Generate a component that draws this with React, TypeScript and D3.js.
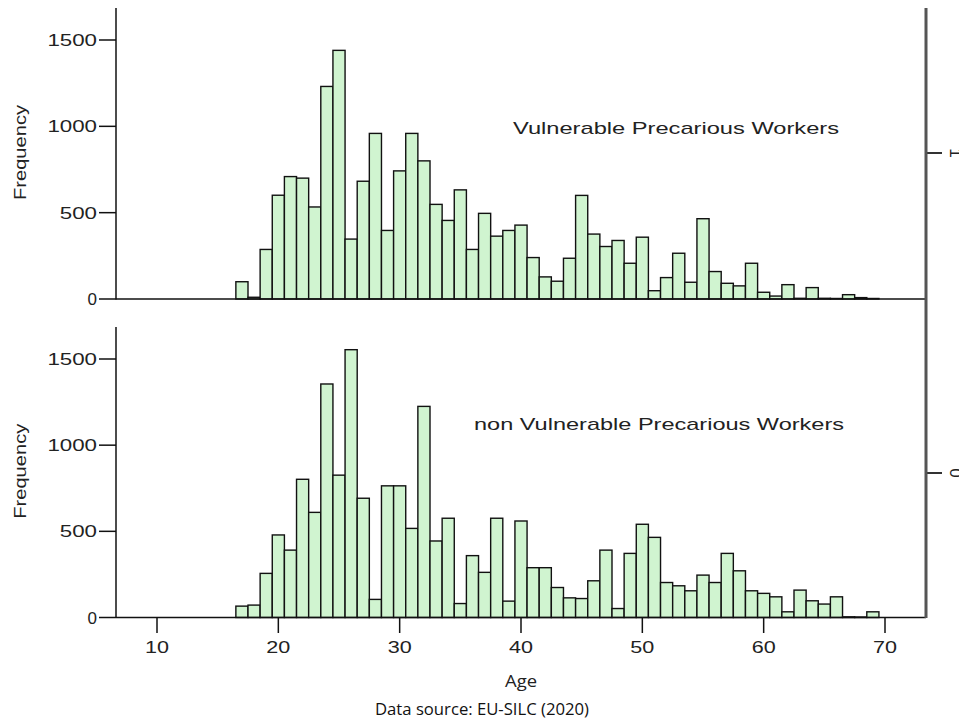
import React from "react";
import * as d3 from "d3";

// ---- data ----
const ages = [17, 18, 19, 20, 21, 22, 23, 24, 25, 26, 27, 28, 29, 30, 31, 32, 33, 34, 35, 36, 37, 38, 39, 40, 41, 42, 43, 44, 45, 46, 47, 48, 49, 50, 51, 52, 53, 54, 55, 56, 57, 58, 59, 60, 61, 62, 63, 64, 65, 66, 67, 68, 69];

const vulnerable = [100, 10, 287, 601, 709, 700, 533, 1231, 1440, 347, 682, 959, 397, 742, 959, 800, 548, 455, 632, 287, 496, 364, 397, 428, 240, 128, 103, 236, 600, 376, 304, 339, 207, 358, 48, 124, 265, 97, 465, 159, 91, 76, 207, 39, 17, 83, 4, 66, 4, 3, 25, 8, 3];

const nonVulnerable = [66, 72, 256, 479, 391, 802, 610, 1355, 826, 1554, 692, 105, 764, 764, 517, 1225, 444, 576, 81, 359, 262, 576, 95, 560, 289, 289, 174, 114, 110, 213, 391, 52, 372, 541, 465, 203, 184, 155, 246, 203, 372, 271, 155, 140, 120, 33, 159, 97, 78, 120, 4, 3, 33];

const yTicks = [0, 500, 1000, 1500];
const xTicks = [10, 20, 30, 40, 50, 60, 70];
const panelLabels = ["Vulnerable Precarious Workers", "non Vulnerable Precarious Workers"];
const rightLabels = ["1", "0"];

const W = 959;
const H = 727;

const x = d3.scaleLinear().domain([10, 70]).range([157, 885]);
const xLeft = 116;
const xRight = 926;

const panels = [
  { data: vulnerable, y: d3.scaleLinear().domain([0, 1500]).range([299, 40]), top: 8, label: panelLabels[0], lx: 513, ly: 134, lw: 326, right: rightLabels[0], ry: 153 },
  { data: nonVulnerable, y: d3.scaleLinear().domain([0, 1500]).range([617.5, 359]), top: 327, label: panelLabels[1], lx: 474, ly: 430, lw: 370, right: rightLabels[1], ry: 473 },
];

const FONT = "'Liberation Sans', Arial, sans-serif";
const FILL = "#d0f4d0";

export default function App() {
  return (
    <svg width={W} height={H} style={{ position: "absolute", left: 0, top: 0, background: "#fff" }}>
      {panels.map((p, pi) => {
        const y0 = p.y(0);
        return (
          <g key={pi}>
            {/* bars */}
            {ages.map((a, i) => {
              const x0 = x(a - 0.5);
              const x1 = x(a + 0.5);
              const yt = p.y(p.data[i]);
              return (
                <rect key={a} x={x0} y={yt} width={x1 - x0} height={y0 - yt}
                  fill={FILL} stroke="#111" strokeWidth={1.4} />
              );
            })}
            {/* baseline */}
            <line x1={xLeft} x2={xRight} y1={y0} y2={y0} stroke="#111" strokeWidth={1.5} />
            {/* left axis */}
            <line x1={xLeft} x2={xLeft} y1={p.top} y2={y0 + 0.5} stroke="#111" strokeWidth={1.5} />
            {yTicks.map((t) => {
              const s = String(t);
              return (
                <g key={t}>
                  <line x1={99} x2={xLeft} y1={p.y(t)} y2={p.y(t)} stroke="#111" strokeWidth={1.5} />
                  <text x={97} y={p.y(t)} dy="0.36em" textAnchor="end" fontFamily={FONT} fontSize={17}
                    fill="#222" {...(s.length > 1 ? { textLength: s.length * 12.4, lengthAdjust: "spacingAndGlyphs" } : {})}>
                    {s}
                  </text>
                </g>
              );
            })}
            <text transform={`translate(26,${(p.top + y0) / 2 - 1}) rotate(-90)`} textAnchor="middle"
              fontFamily={FONT} fontSize={17} fill="#222" textLength={95} lengthAdjust="spacingAndGlyphs">
              Frequency
            </text>
            {/* panel label */}
            <text x={p.lx} y={p.ly} fontFamily={FONT} fontSize={17} fill="#222"
              textLength={p.lw} lengthAdjust="spacingAndGlyphs">
              {p.label}
            </text>
            {/* right tick and clipped label */}
            <line x1={xRight} x2={942} y1={p.ry} y2={p.ry} stroke="#333" strokeWidth={2} />
            <text transform={`translate(950,${p.ry}) rotate(90)`} textAnchor="middle" fontFamily={FONT}
              fontSize={17} fill="#222">
              {p.right}
            </text>
          </g>
        );
      })}
      {/* right axis */}
      <line x1={xRight} x2={xRight} y1={8} y2={618} stroke="#555" strokeWidth={3} />
      {/* x ticks on bottom panel */}
      {xTicks.map((t) => (
        <g key={t}>
          <line x1={x(t)} x2={x(t)} y1={618} y2={633} stroke="#111" strokeWidth={1.5} />
          <text x={x(t)} y={653} textAnchor="middle" fontFamily={FONT} fontSize={17} fill="#222"
            textLength={24} lengthAdjust="spacingAndGlyphs">
            {t}
          </text>
        </g>
      ))}
      <text x={521} y={687} textAnchor="middle" fontFamily="'Open Sans', sans-serif" fontSize={17} fill="#222"
        textLength={32} lengthAdjust="spacingAndGlyphs">
        Age
      </text>
      <text x={482} y={715} textAnchor="middle" fontFamily="'Open Sans', sans-serif" fontSize={16} fill="#111"
        textLength={214} lengthAdjust="spacingAndGlyphs">
        Data source: EU-SILC (2020)
      </text>
    </svg>
  );
}
